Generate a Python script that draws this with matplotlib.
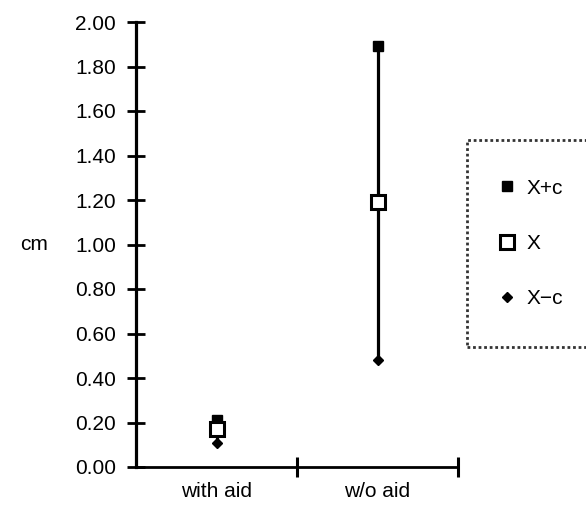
import matplotlib
matplotlib.use("Agg")
import matplotlib.pyplot as plt
from matplotlib.lines import Line2D

plt.rcParams['font.family'] = ['Liberation Sans', 'DejaVu Sans']

categories = ["with aid", "w/o aid"]
x_pos = [0.5, 1.5]
x_plus_c = [0.21, 1.89]
x_mean = [0.17, 1.19]
x_minus_c = [0.11, 0.48]
y_ticks = [0.0, 0.2, 0.4, 0.6, 0.8, 1.0, 1.2, 1.4, 1.6, 1.8, 2.0]

FS = 15

fig = plt.figure(figsize=(5.86, 5.17), dpi=100)
ax = fig.add_axes([136/586, 1 - 467/517, (458 - 136)/586, (467 - 22)/517])

# range lines
for xp, lo, hi in zip(x_pos, x_minus_c, x_plus_c):
    ax.plot([xp, xp], [lo, hi], color='black', lw=2.3, zorder=1)

ax.plot(x_pos, x_plus_c, ls='none', marker='s', ms=6.5, color='black', zorder=3)
ax.plot(x_pos, x_mean, ls='none', marker='s', ms=10, mfc='white', mec='black',
        mew=2.2, zorder=4)
ax.plot(x_pos, x_minus_c, ls='none', marker='D', ms=5, color='black', zorder=3)

ax.set_xlim(0, 2)
ax.set_ylim(0, 2.0)
ax.set_yticks(y_ticks)
ax.set_yticklabels([f"{v:.2f}" for v in y_ticks])
ax.set_xticks([1, 2])
ax.set_xticklabels([])
ax.set_xticks(x_pos, minor=True)
ax.set_xticklabels(categories, minor=True)
ax.tick_params(axis='x', which='minor', length=0, pad=11, labelsize=FS)
ax.tick_params(axis='x', which='major', direction='inout', length=15, width=2.2)
ax.tick_params(axis='y', direction='inout', length=13, width=2, labelsize=FS, pad=8)

for s in ['top', 'right']:
    ax.spines[s].set_visible(False)
ax.spines['left'].set_linewidth(2.3)
ax.spines['bottom'].set_linewidth(2.0)

fig.text(34/586, 1 - 245/517, "cm", fontsize=FS, ha='center', va='center')

handles = [
    Line2D([], [], ls='none', marker='s', ms=6.5, color='black'),
    Line2D([], [], ls='none', marker='s', ms=10, mfc='white', mec='black', mew=2.2),
    Line2D([], [], ls='none', marker='D', ms=5, color='black'),
]
leg = fig.legend(handles, ["X+c", "X", "X\u2212c"], loc='upper left',
                 bbox_to_anchor=(467/586, 1 - 140/517, 0.3, 0),
                 mode='expand', fontsize=FS, frameon=True, fancybox=False,
                 handlelength=0.1, handletextpad=0.9, labelspacing=1.75,
                 borderpad=1.85, borderaxespad=0)
fr = leg.get_frame()
fr.set_edgecolor('black')
fr.set_linewidth(2.0)
fr.set_linestyle((0, (1, 1)))

fig.savefig("out.png", dpi=100)
